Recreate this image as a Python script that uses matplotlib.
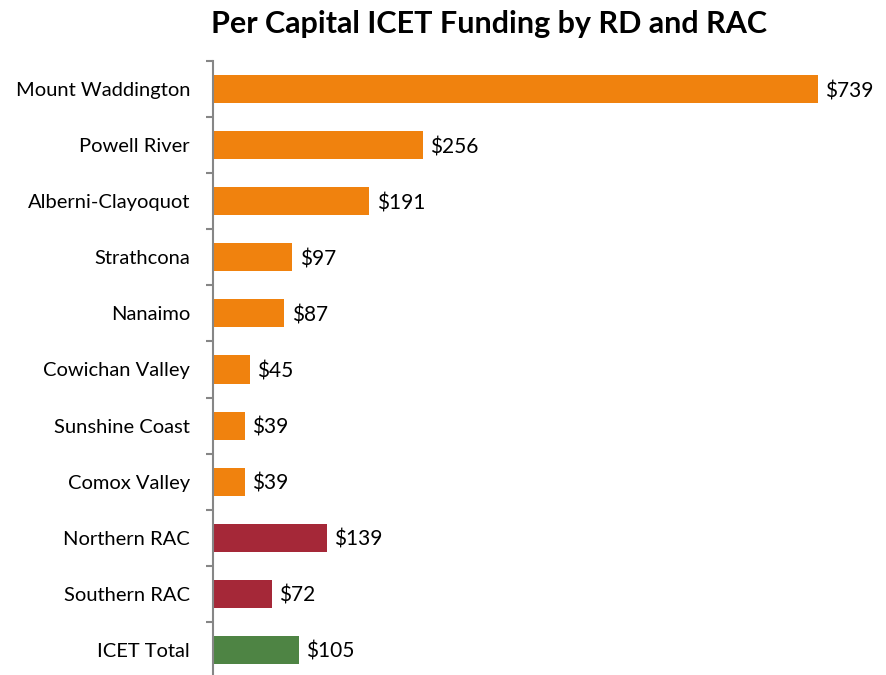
import matplotlib.pyplot as plt

plt.rcParams["font.family"] = ["Lato", "DejaVu Sans"]

# Data
regions = ["Mount Waddington", "Powell River", "Alberni-Clayoquot", "Strathcona",
           "Nanaimo", "Cowichan Valley", "Sunshine Coast", "Comox Valley",
           "Northern RAC", "Southern RAC", "ICET Total"]
funding = [739, 256, 191, 97, 87, 45, 39, 39, 139, 72, 105]
groups = ["RD"] * 8 + ["RAC"] * 2 + ["Total"]

group_colors = {"RD": "#F0820E", "RAC": "#A52838", "Total": "#4E8444"}
colors = [group_colors[g] for g in groups]

# ---- Plot ----
fig = plt.figure(figsize=(8.86, 6.75), dpi=100)
ax = fig.add_axes([0.2404, -0.0044, 0.739, 0.914])

y = list(range(len(regions)))
ax.barh(y, funding, height=0.5, color=colors)

for yi, v in zip(y, funding):
    ax.text(v + 9, yi, f"${v}", va="center_baseline", ha="left", fontsize=15)

ax.set_xlim(0, 800)
ax.set_ylim(len(regions) - 0.5, -0.5)
ax.set_yticks(y)
ax.set_yticklabels(regions, fontsize=14.5)
ax.tick_params(axis="y", length=0, pad=16.5)
ax.set_yticks([i - 0.5 for i in range(len(regions) + 1)], minor=True)
ax.tick_params(axis="y", which="minor", length=5, color="#868686", width=1.5)
ax.set_xticks([])

for side in ["top", "right", "bottom"]:
    ax.spines[side].set_visible(False)
ax.spines["left"].set_color("#868686")
ax.spines["left"].set_linewidth(1.5)

fig.text(0.552, 0.965, "Per Capital ICET Funding by RD and RAC",
         ha="center", va="center", fontsize=22, fontweight="bold")

fig.savefig("out.png", dpi=100)
